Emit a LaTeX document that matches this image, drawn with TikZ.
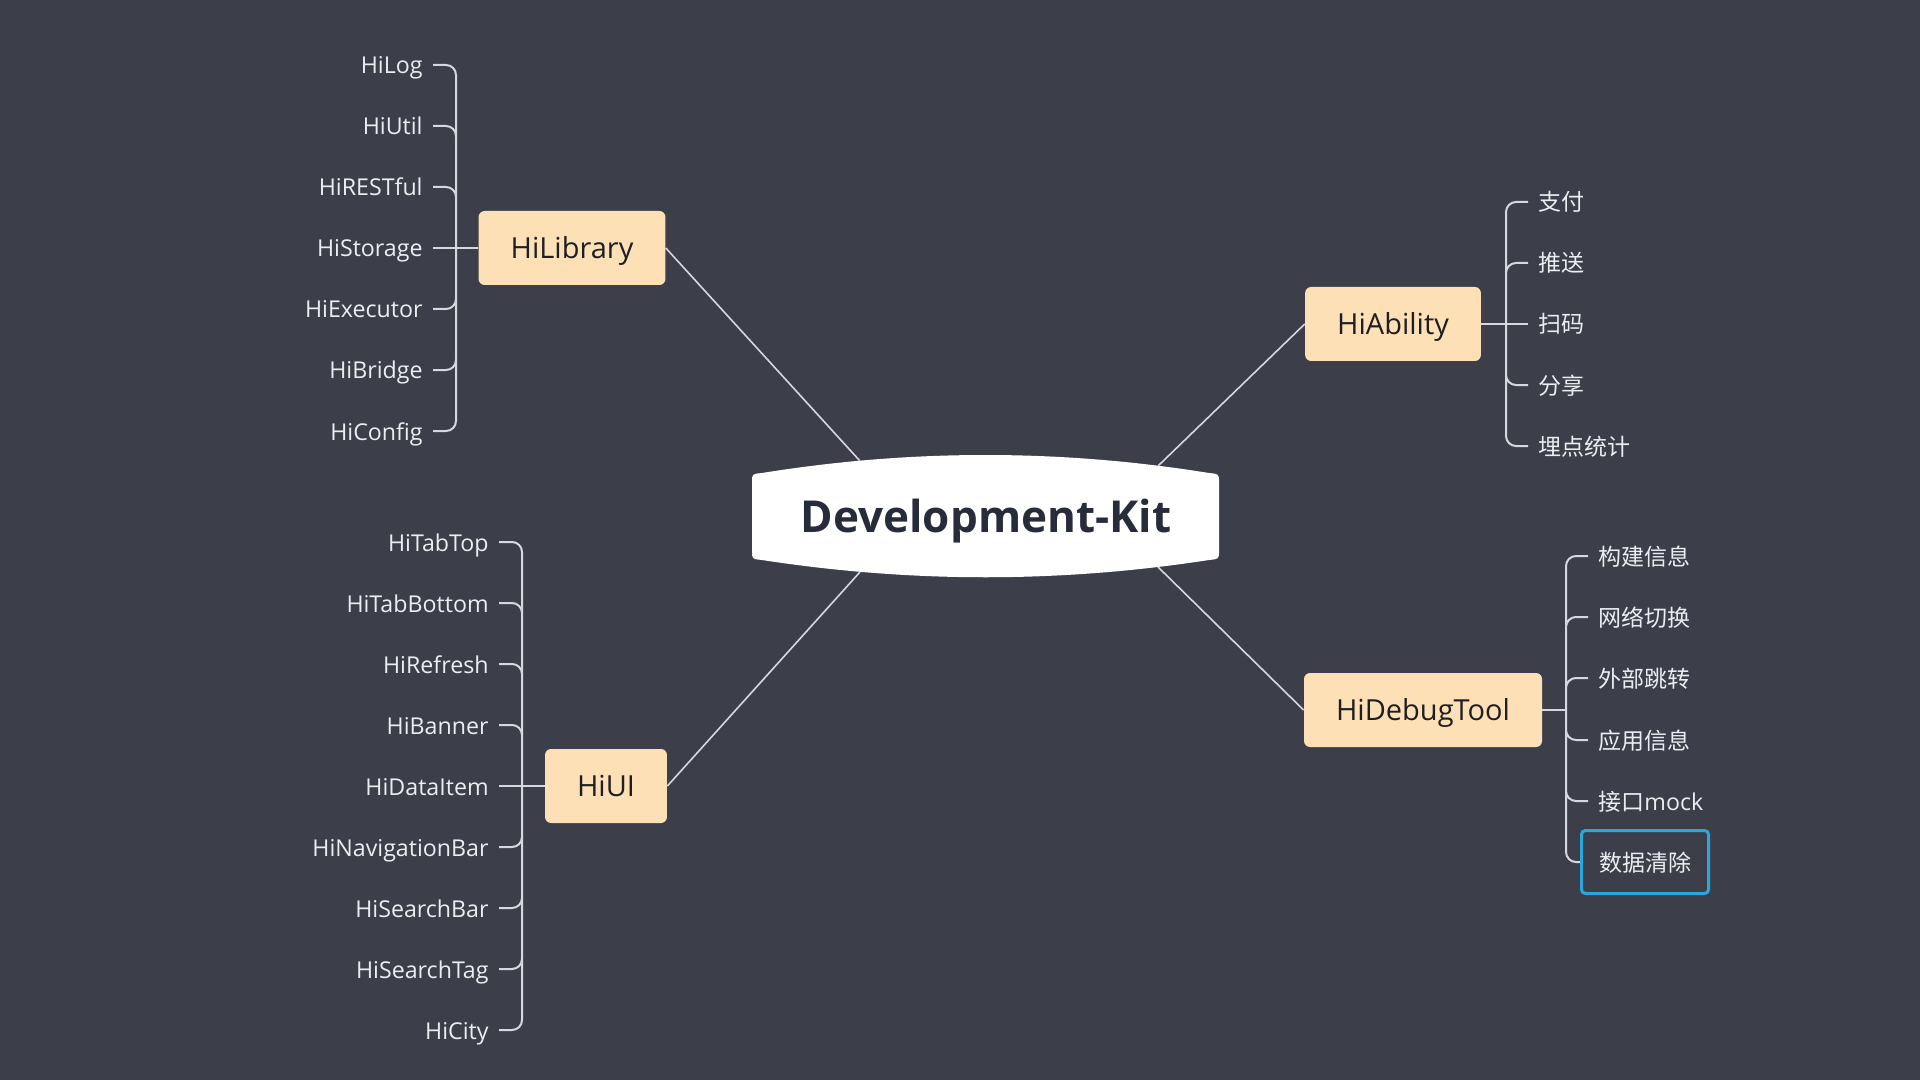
\documentclass[tikz,border=0pt]{standalone}
\usepackage{fontspec}
\setmainfont{Open Sans}
\newfontfamily\cjk{Noto Sans CJK SC}
\usetikzlibrary{positioning, calc}

\definecolor{bgdark}{RGB}{60,63,74}
\definecolor{peach}{RGB}{253,224,182}
\definecolor{boxtext}{RGB}{30,31,36}
\definecolor{kittext}{RGB}{38,44,58}
\definecolor{linegray}{RGB}{214,216,222}
\definecolor{leaftext}{RGB}{236,237,240}
\definecolor{selblue}{RGB}{41,168,224}

\begin{document}
\begin{tikzpicture}[
  x=0.5pt, y=-0.5pt,
  topic/.style={rectangle, rounded corners=3pt, fill=peach, text=boxtext, inner xsep=16pt, minimum height=37pt, text height=10.3pt, text depth=0pt, font=\fontsize{14.5}{16}\selectfont},
  leafl/.style={anchor=east, inner sep=5pt, text=leaftext, text height=9pt, text depth=0pt, font=\fontsize{11.6}{14}\selectfont},
  leafr/.style={anchor=west, inner sep=5pt, text=leaftext, text height=9pt, text depth=0pt, font=\fontsize{11.5}{14}\cjk},
  sel/.style={draw=selblue, line width=1.5pt, rounded corners=2pt, minimum width=63.5pt, minimum height=31.5pt, text=leaftext, text height=9pt, text depth=0pt, font=\fontsize{11.5}{14}\cjk},
  branch/.style={draw=linegray, line width=1pt, rounded corners=5pt},
  spoke/.style={draw=linegray, line width=0.8pt}
]
  \fill[bgdark] (0,0) rectangle (1920,1080);

  % central topic
  \fill[white] (752,482) .. controls (752,474) .. (762,473)
    .. controls (911,449) and (1060,449) .. (1209,473)
    .. controls (1219,474) .. (1219,482) -- (1219,551)
    .. controls (1219,559) .. (1209,560)
    .. controls (1060,583) and (911,583) .. (762,560)
    .. controls (752,559) .. (752,551) -- cycle;
  \node[text=kittext, text height=15.7pt, text depth=0pt, font=\fontsize{22}{24}\bfseries] (kit) at (986,517) {Development-Kit};
  \coordinate (kitnw) at (860,461);
  \coordinate (kitsw) at (860,572);
  \coordinate (kitne) at (1158,466);
  \coordinate (kitse) at (1158,567);

  % main topics
  \node[topic] (lib) at (572,248) {HiLibrary};
  \node[topic] (ui) at (606,786) {HiUI};
  \node[topic] (abil) at (1393,324) {HiAbility};
  \node[topic] (dbg) at (1423,710) {HiDebugTool};

  \draw[spoke] (lib.east) -- (kitnw);
  \draw[spoke] (ui.east) -- (kitsw);
  \draw[spoke] (abil.west) -- (kitne);
  \draw[spoke] (dbg.west) -- (kitse);

  % HiLibrary branch
  \node[leafl] (hilog) at (433,65) {HiLog};
  \node[leafl] (hiutil) at (433,126) {HiUtil};
  \node[leafl] (hirest) at (433,187) {HiRESTful};
  \node[leafl] (historage) at (433,248) {HiStorage};
  \node[leafl] (hiexec) at (433,309) {HiExecutor};
  \node[leafl] (hibridge) at (433,370) {HiBridge};
  \node[leafl] (hiconfig) at (433,431) {HiConfig};
  \coordinate (libj) at (456,248);
  \draw[branch] (lib.west) -- (historage.east);
  \draw[branch] (libj) |- (hilog.east) (libj) |- (hiutil.east) (libj) |- (hirest.east)
    (libj) |- (hiexec.east) (libj) |- (hibridge.east) (libj) |- (hiconfig.east);

  % HiUI branch
  \node[leafl] (hitabtop) at (499,542) {HiTabTop};
  \node[leafl] (hitabbottom) at (499,603) {HiTabBottom};
  \node[leafl] (hirefresh) at (499,664) {HiRefresh};
  \node[leafl] (hibanner) at (499,725) {HiBanner};
  \node[leafl] (hidataitem) at (499,786) {HiDataItem};
  \node[leafl] (hinavbar) at (499,847) {HiNavigationBar};
  \node[leafl] (hisearchbar) at (499,908) {HiSearchBar};
  \node[leafl] (hisearchtag) at (499,969) {HiSearchTag};
  \node[leafl] (hicity) at (499,1030) {HiCity};
  \coordinate (uij) at (522,786);
  \draw[branch] (ui.west) -- (hidataitem.east);
  \draw[branch] (uij) |- (hitabtop.east) (uij) |- (hitabbottom.east) (uij) |- (hirefresh.east)
    (uij) |- (hibanner.east) (uij) |- (hinavbar.east) (uij) |- (hisearchbar.east)
    (uij) |- (hisearchtag.east) (uij) |- (hicity.east);

  % HiAbility branch
  \node[leafr] (pay) at (1528,202) {支付};
  \node[leafr] (push) at (1528,263) {推送};
  \node[leafr] (scan) at (1528,324) {扫码};
  \node[leafr] (share) at (1528,385) {分享};
  \node[leafr] (track) at (1528,446) {埋点统计};
  \coordinate (abilj) at (1506,324);
  \draw[branch] (abil.east) -- (scan.west);
  \draw[branch] (abilj) |- (pay.west) (abilj) |- (push.west)
    (abilj) |- (share.west) (abilj) |- (track.west);

  % HiDebugTool branch
  \node[leafr] (buildinfo) at (1588,556) {构建信息};
  \node[leafr] (netswitch) at (1588,617) {网络切换};
  \node[leafr] (extjump) at (1588,678) {外部跳转};
  \node[leafr] (appinfo) at (1588,740) {应用信息};
  \node[leafr] (mockapi) at (1588,801) {接口{\fontsize{11.6}{14}\rmfamily mock}};
  \node[sel] (clear) at (1645,862) {数据清除};
  \coordinate (dbgj) at (1566,710);
  \draw[branch] (dbg.east) -- (dbgj);
  \draw[branch] (dbgj) |- (buildinfo.west) (dbgj) |- (netswitch.west) (dbgj) |- (extjump.west)
    (dbgj) |- (appinfo.west) (dbgj) |- (mockapi.west) (dbgj) |- (clear.west);
\end{tikzpicture}
\end{document}
